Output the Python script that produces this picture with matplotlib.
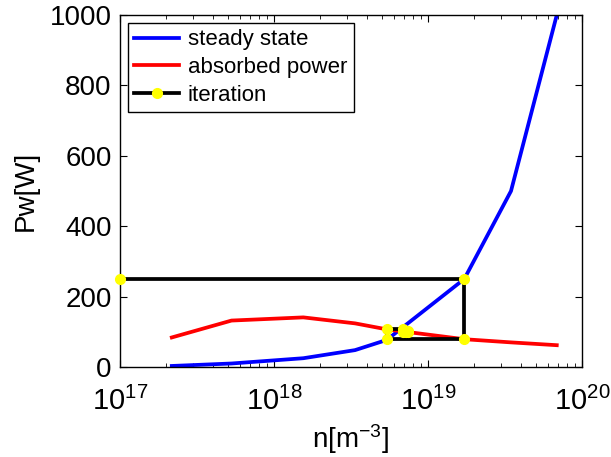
import numpy as np
from matplotlib import pyplot as plt

plt.rcParams['font.family'] = ['Liberation Sans', 'DejaVu Sans']
plt.rcParams['mathtext.fontset'] = 'custom'
plt.rcParams['mathtext.rm'] = 'Liberation Sans'
plt.rcParams['mathtext.it'] = 'Liberation Sans:italic'

# density grid [m^-3]
density = [2.17e17, 5.3e17, 1.55e18, 3.36e18, 5.4e18, 1.72e19, 3.46e19, 6.86e19]
# steady state wall power [W]
steady_state = [3, 10, 25, 48, 77, 250, 500, 1000]
# absorbed power [W]
absorbed = [84, 132, 141, 124, 107, 79, 70, 62]

# iteration path
iter_n = [1e17, 1.72e19, 1.72e19, 5.4e18, 5.4e18, 6.9e18, 6.9e18, 7.4e18, 7.4e18, 7.2e18, 7.2e18]
iter_p = [250, 250, 79, 79, 107, 107, 99, 99, 101, 101, 100]

fig = plt.figure(figsize=(6.11, 4.57), dpi=100)
ax = fig.add_axes([0.1964, 0.1969, 0.7561, 0.7702])

ax.plot(density, steady_state, color='blue', lw=2.7, label='steady state')
ax.plot(density, absorbed, color='red', lw=2.7, label='absorbed power')
ax.plot(iter_n, iter_p, color='black', lw=2.7, marker='o', ms=7,
        mfc='yellow', mec='yellow', label='iteration', clip_on=False, zorder=5)

ax.set_xscale('log')
ax.set_xlim(1e17, 1e20)
ax.set_ylim(0, 1000)
ax.set_yticks([0, 200, 400, 600, 800, 1000])

ax.tick_params(which='both', direction='in', top=True, right=True)
ax.tick_params(axis='y', labelsize=20, pad=6)
ax.tick_params(axis='x', labelsize=21, pad=14)
ax.tick_params(which='major', length=5)
ax.tick_params(which='minor', length=3)
for s in ax.spines.values():
    s.set_linewidth(1.0)

ax.set_xlabel(r'n[m$^{-3}$]', fontsize=20, labelpad=5)
ax.set_ylabel('Pw[W]', fontsize=20, labelpad=8)

leg = ax.legend(loc='upper left', fontsize=16, handlelength=2.0, labelspacing=0.3,
                borderaxespad=0.35, fancybox=False, framealpha=1, edgecolor='black',
                handletextpad=0.4, borderpad=0.3)
leg.get_frame().set_linewidth(1.0)

fig.savefig('out.png', dpi=100)
